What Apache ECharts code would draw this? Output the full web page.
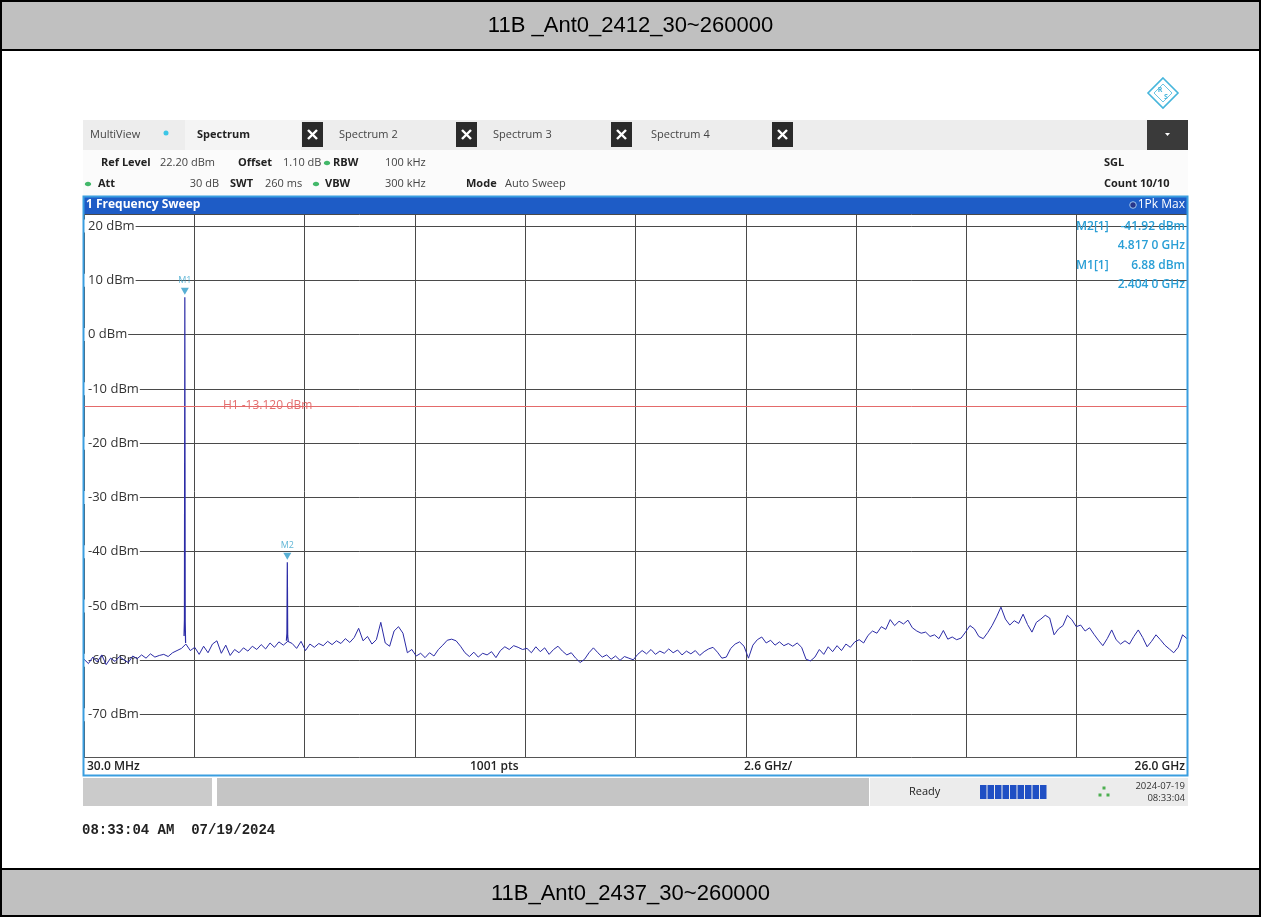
<!DOCTYPE html>
<html><head><meta charset="utf-8">
<script src="https://cdn.jsdelivr.net/npm/echarts@6/dist/echarts.min.js"></script>
<style>html,body{margin:0;padding:0;background:#fff}#c{width:1261px;height:917px}</style>
</head><body><div id="c"></div>
<script>
// ---- data ----
const F_START_GHZ = 0.03;
const F_STOP_GHZ = 26.0;
const X_DIV_GHZ = 2.597;
const REF_LEVEL_DBM = 22.2;
const Y_AXIS_MIN_DBM = -80;
const Y_DIV_DB = 10;

// trace (1Pk Max) sampled evenly across the sweep
const traceLevels = [
-59.8,-60.6,-59.4,-60.3,-59.0,-60.8,-59.6,-60.2,-59.3,-59.9,-60.4,-59.2,-59.7,-59.0,-59.6,-58.8,-59.4,-59.1,-58.9,-59.3,-58.6,-58.2,-57.8,
-57.0,-58.2,-57.6,-58.9,-57.4,-58.6,-57.0,-56.4,-58.7,-57.2,-59.1,-58.0,-58.6,-57.7,-58.3,-57.4,-58.0,-57.1,-57.9,-56.8,-57.6,-56.6,-57.2,
-56.5,-56.9,-57.8,-56.5,-58.2,-57.0,-57.6,-56.9,-57.3,-56.5,-57.1,-56.4,-56.9,-56.0,-56.7,-55.8,-54.1,-56.4,-55.6,-57.0,-56.2,-53.0,-56.8,-57.4,-54.6,-53.8,-55.0,
-58.6,-58.0,-59.2,-58.7,-59.5,-58.6,-59.2,-58.0,-57.2,-56.3,-56.1,-56.4,-57.4,-58.6,-59.3,-58.5,-59.4,-58.7,-59.0,-58.4,-59.5,-58.2,-57.5,-58.0,-57.3,-57.6,-58.0,
-57.8,-58.6,-57.5,-58.4,-57.7,-58.9,-58.0,-57.4,-58.3,-59.0,-58.6,-59.6,-60.4,-59.8,-58.6,-57.7,-58.6,-59.4,-59.0,-59.8,-59.2,-60.0,-59.3,-59.6,-59.9,
-58.9,-58.2,-58.8,-58.0,-58.9,-58.3,-58.7,-57.9,-58.6,-58.1,-59.0,-58.3,-58.8,-58.2,-59.1,-58.4,-57.9,-57.6,-58.5,-59.6,-59.4,-57.8,-57.0,-56.6,-57.4,
-59.6,-57.2,-56.2,-55.7,-56.8,-56.3,-57.2,-56.6,-57.3,-56.9,-57.4,-56.8,-57.6,-59.8,-60.1,-59.4,-58.0,-58.9,-57.5,-58.4,-57.3,-58.2,-57.0,-57.6,-56.6,
-56.2,-56.8,-55.4,-54.6,-55.0,-53.8,-54.3,-52.5,-53.6,-52.8,-53.3,-52.6,-54.0,-54.6,-55.0,-54.8,-55.6,-55.3,-56.0,-54.5,-56.1,-55.7,-56.2,-55.9,-54.8,
-53.6,-54.2,-55.6,-56.0,-54.9,-53.6,-52.0,-50.2,-52.4,-53.5,-52.7,-53.2,-51.5,-53.4,-54.8,-53.0,-52.4,-51.7,-52.2,-55.3,-54.2,-53.6,-51.7,-52.5,-53.8,
-53.5,-54.6,-54.0,-55.2,-56.3,-57.3,-56.0,-54.4,-56.2,-57.0,-56.4,-57.0,-55.6,-54.4,-55.8,-57.5,-56.5,-55.3,-56.2,-57.2,-57.9,-58.6,-57.6,-55.3,-56.0
];
// narrow carrier / harmonic spikes
const m1SpikeFreq  = [2.385, 2.395, 2.404, 2.413, 2.422];
const m1SpikeLevel = [-55.5, -52.5, 6.88, -53.0, -56.8];
const m2SpikeFreq  = [4.795, 4.808, 4.817, 4.826, 4.840];
const m2SpikeLevel = [-56.4, -55.0, -41.92, -55.5, -56.6];

const markerNames = ['M1', 'M2'];
const markerFreq  = [2.404, 4.817];
const markerLevel = [6.88, -41.92];
const markerFreqText  = ['2.404 0 GHz', '4.817 0 GHz'];
const markerLevelText = ['6.88 dBm', '-41.92 dBm'];

const h1Level = -13.12;
const h1Text = 'H1 -13.120 dBm';
const h1LabelFreq = 3.3;

const xFooterTexts = ['30.0 MHz', '1001 pts', '2.6 GHz/', '26.0 GHz'];
const titleTop = '11B _Ant0_2412_30~260000';
const titleBottom = '11B_Ant0_2437_30~260000';
const tabNames = ['Spectrum', 'Spectrum 2', 'Spectrum 3', 'Spectrum 4'];

// ---- build ----
const span = F_STOP_GHZ - F_START_GHZ;
const n = traceLevels.length;
const traceData = traceLevels.map((v, i) => [i * span / (n - 1), v]);
const m1Data = m1SpikeFreq.map((f, i) => [f - F_START_GHZ, m1SpikeLevel[i]]);
const m2Data = m2SpikeFreq.map((f, i) => [f - F_START_GHZ, m2SpikeLevel[i]]);
const markerData = markerNames.map((nm, i) => [markerFreq[i] - F_START_GHZ, markerLevel[i], nm]);

const UI = '"Open Sans", "Noto Sans", sans-serif';
const G = [];
function txt(x, y, text, font, fill, align, z) {
  G.push({type: 'text', x: x, y: y, z: z || 20, silent: true,
    style: {text: text, font: font, fill: fill, align: align || 'left', verticalAlign: 'middle'}});
}
function rect(x, y, w, h, style, z) {
  G.push({type: 'rect', z: z || 1, silent: true, shape: {x: x, y: y, width: w, height: h}, style: style});
}
function line(x1, y1, x2, y2, style, z) {
  G.push({type: 'line', z: z || 20, silent: true, shape: {x1: x1, y1: y1, x2: x2, y2: y2}, style: style});
}

// outer page frame and title bands
rect(0, 0, 1261, 50, {fill: '#c0c0c0'});
rect(0, 869, 1261, 48, {fill: '#c0c0c0'});
line(0, 50, 1261, 50, {stroke: '#000', lineWidth: 2});
line(0, 869, 1261, 869, {stroke: '#000', lineWidth: 2});
rect(1, 1, 1259, 915, {fill: 'none', stroke: '#000', lineWidth: 2}, 30);
txt(630.5, 26, titleTop, '22px "Liberation Sans", Arial, sans-serif', '#000', 'center');
txt(630.5, 894, titleBottom, '22px "Liberation Sans", Arial, sans-serif', '#000', 'center');

// R&S logo
G.push({type: 'polygon', z: 20, silent: true, shape: {points: [[1163, 78], [1178, 93], [1163, 108], [1148, 93]]},
  style: {fill: 'none', stroke: '#46b6dc', lineWidth: 1.6}});
G.push({type: 'polygon', z: 20, silent: true, shape: {points: [[1163, 84], [1172, 93], [1163, 102], [1154, 93]]},
  style: {fill: 'none', stroke: '#46b6dc', lineWidth: 0.8}});
txt(1160, 90, 'R', 'bold 7px ' + UI, '#46b6dc', 'center');
txt(1166, 97, 'S', 'bold 7px ' + UI, '#46b6dc', 'center');

// tab row
rect(83, 120, 1105, 30, {fill: '#ededed'});
rect(185, 120, 116, 30, {fill: '#f4f4f4'});
txt(90, 135, 'MultiView', '11px ' + UI, '#444');
G.push({type: 'circle', z: 20, silent: true, shape: {cx: 166, cy: 133, r: 2.5}, style: {fill: '#3cc6e6'}});
const tabX = [197, 339, 493, 651];
const closeX = [302, 456, 611, 772];
tabNames.forEach((t, i) => {
  txt(tabX[i], 135, t, (i === 0 ? 'bold ' : '') + '11px ' + UI, i === 0 ? '#222' : '#444');
  rect(closeX[i], 122, 21, 25, {fill: '#2a2a2a'}, 5);
  const cx = closeX[i] + 10.5, cy = 134.5;
  line(cx - 4.5, cy - 4.5, cx + 4.5, cy + 4.5, {stroke: '#fff', lineWidth: 2.4});
  line(cx - 4.5, cy + 4.5, cx + 4.5, cy - 4.5, {stroke: '#fff', lineWidth: 2.4});
});
rect(1147, 120, 41, 30, {fill: '#3a3a3a'}, 5);
G.push({type: 'polygon', z: 20, silent: true, shape: {points: [[1165, 133], [1170, 133], [1167.5, 136]]}, style: {fill: '#fff'}});

// header info rows
rect(83, 150, 1105, 46, {fill: '#fbfbfb'});
const B = 'bold 11px ' + UI, R = '11px ' + UI;
txt(101, 163, 'Ref Level', B, '#222'); txt(160, 163, '22.20 dBm', R, '#444');
txt(238, 163, 'Offset', B, '#222'); txt(283, 163, '1.10 dB', R, '#444');
txt(333, 163, 'RBW', B, '#222'); txt(385, 163, '100 kHz', R, '#444');
txt(98, 184, 'Att', B, '#222'); txt(219, 184, '30 dB', R, '#444', 'right');
txt(230, 184, 'SWT', B, '#222'); txt(265, 184, '260 ms', R, '#444');
txt(325, 184, 'VBW', B, '#222'); txt(385, 184, '300 kHz', R, '#444');
txt(466, 184, 'Mode', B, '#222'); txt(505, 184, 'Auto Sweep', R, '#444');
txt(1104, 163, 'SGL', B, '#222'); txt(1104, 184, 'Count 10/10', B, '#222');
[[327, 163], [88, 184], [316, 184]].forEach(p => G.push({type: 'ellipse', z: 20, silent: true,
  shape: {cx: p[0], cy: p[1], rx: 3.2, ry: 2.3}, style: {fill: '#43b86a'}}));

// diagram title bar
rect(83, 196, 1105, 18, {fill: '#1e5cc6'}, 5);
txt(86, 205, '1 Frequency Sweep', 'bold 12px ' + UI, '#fff');
G.push({type: 'circle', z: 20, silent: true, shape: {cx: 1133, cy: 205, r: 3.3}, style: {fill: '#27358a', stroke: '#9cc4ee', lineWidth: 1}});
txt(1185, 205, '1Pk Max', '12px ' + UI, '#fff', 'right');

// marker table
const MF = '600 12px ' + UI, MC = '#2a9fd6';
const rowY = [227, 246, 266, 285];
[1, 0].forEach((mi, k) => {
  txt(1076, rowY[k * 2], markerNames[mi] + '[1]', MF, MC);
  txt(1185, rowY[k * 2], markerLevelText[mi], MF, MC, 'right');
  txt(1185, rowY[k * 2 + 1], markerFreqText[mi], MF, MC, 'right');
});

// footer of diagram
rect(83, 757, 1105, 19, {fill: '#fff'}, 5);
const FF = '600 12px ' + UI;
txt(87, 766.5, xFooterTexts[0], FF, '#222');
txt(470, 766.5, xFooterTexts[1], FF, '#222');
txt(744, 766.5, xFooterTexts[2], FF, '#222');
txt(1185, 766.5, xFooterTexts[3], FF, '#222', 'right');
line(83, 757.5, 1188, 757.5, {stroke: '#555', lineWidth: 1}, 25);
// window frame
rect(83.5, 196.5, 1104, 579, {fill: 'none', stroke: '#3a9ee0', lineWidth: 2}, 40);

// status bar
rect(83, 778, 129, 28, {fill: '#cbcbcb'});
rect(217, 778, 652, 28, {fill: '#c5c5c5'});
rect(870, 778, 318, 28, {fill: '#ececec'});
txt(909, 792, 'Ready', '11px ' + UI, '#222');
for (let k = 0; k < 9; k++) rect(980 + k * 7.5, 785, 6.5, 14, {fill: '#1f4fc4'}, 5);
[[1104, 788], [1100, 795], [1108, 795]].forEach(p => rect(p[0] - 1.5, p[1] - 1.5, 3, 3, {fill: '#4caf50'}, 5));
txt(1185, 786, '2024-07-19', '9.5px ' + UI, '#333', 'right');
txt(1185, 798, '08:33:04', '9.5px ' + UI, '#333', 'right');

// time stamp
txt(82, 830, '08:33:04 AM  07/19/2024', 'bold 14px "Liberation Mono", "Courier New", monospace', '#222');

// y scale: 5.43 px per dB, top at ref level; axis extends below the footer (hidden under it)
const PX_PER_DB = 5.43;
const chart = echarts.init(document.getElementById('c'), null, {renderer: 'canvas'});
chart.setOption({
  animation: false,
  backgroundColor: '#fff',
  grid: {left: 84, top: 214, width: 1103, height: (REF_LEVEL_DBM - Y_AXIS_MIN_DBM) * PX_PER_DB, containLabel: false, show: false},
  xAxis: {
    type: 'value', min: 0, max: span, interval: X_DIV_GHZ,
    axisLine: {show: false}, axisTick: {show: false}, axisLabel: {show: false},
    splitLine: {show: true, lineStyle: {color: '#4a4a4a', width: 1}}
  },
  yAxis: {
    type: 'value', min: Y_AXIS_MIN_DBM, max: REF_LEVEL_DBM, interval: Y_DIV_DB, position: 'left',
    axisLine: {show: false}, axisTick: {show: false},
    splitLine: {show: true, lineStyle: {color: '#4a4a4a', width: 1}},
    axisLabel: {
      show: true, inside: true, margin: 0, showMinLabel: false, showMaxLabel: false,
      fontSize: 13, fontFamily: 'Open Sans', color: '#333', backgroundColor: '#fff', padding: [0, 1, 0, 4],
      formatter: function (v) { return Math.abs(v / 10 - Math.round(v / 10)) < 1e-6 ? Math.round(v) + ' dBm' : ''; }
    }
  },
  graphic: {elements: G},
  series: [
    {
      type: 'line', data: traceData, showSymbol: false, symbol: 'none', z: 3,
      lineStyle: {color: '#2b2ba6', width: 1},
      markLine: {
        silent: true, symbol: ['none', 'none'], label: {show: false},
        lineStyle: {color: '#e46a6a', width: 1, type: 'solid'},
        data: [{yAxis: h1Level}]
      }
    },
    {type: 'line', data: m1Data, showSymbol: false, symbol: 'none', z: 3, lineStyle: {color: '#2b2ba6', width: 1.2}},
    {type: 'line', data: m2Data, showSymbol: false, symbol: 'none', z: 3, lineStyle: {color: '#2b2ba6', width: 1.2}},
    {
      type: 'scatter', data: markerData, symbol: 'triangle', symbolRotate: 180, symbolSize: [8, 7],
      symbolOffset: [0, -6], z: 4, itemStyle: {color: '#2d9bc9'},
      label: {show: true, position: 'top', distance: 3, formatter: function (p) { return p.data[2]; }, fontSize: 9, fontFamily: 'Open Sans', color: '#3aa4cc'}
    },
    {
      type: 'scatter', data: [[h1LabelFreq - F_START_GHZ, h1Level]], symbolSize: 0, z: 4, silent: true,
      label: {show: true, position: 'right', distance: 0, formatter: h1Text, fontSize: 12, fontFamily: 'Open Sans', color: '#dc4848'}
    }
  ]
});
</script></body></html>
